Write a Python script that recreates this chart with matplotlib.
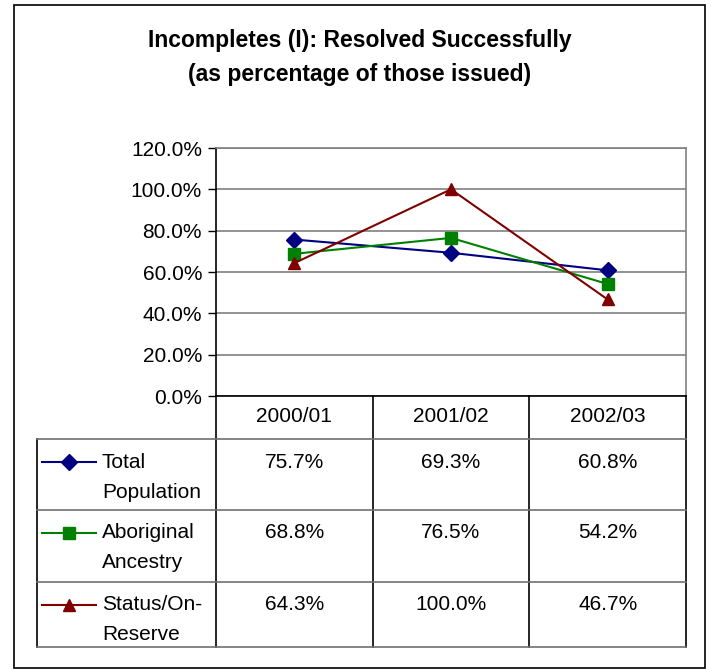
import matplotlib
matplotlib.use("Agg")
import matplotlib.pyplot as plt
from matplotlib.lines import Line2D
from matplotlib.patches import Rectangle

plt.rcParams['font.family'] = ['Liberation Sans', 'DejaVu Sans']

# data
years = ['2000/01', '2001/02', '2002/03']
total_pop = [75.7, 69.3, 60.8]
aboriginal = [68.8, 76.5, 54.2]
status_on_reserve = [64.3, 100.0, 46.7]
series_names = ['Total\nPopulation', 'Aboriginal\nAncestry', 'Status/On-\nReserve']
series_vals = [total_pop, aboriginal, status_on_reserve]
colors = ['#000080', '#008000', '#800000']
markers = ['D', 's', '^']
msizes = [8, 9, 9]
yticks = [0, 20, 40, 60, 80, 100, 120]

W, H = 711, 669
fs = 15
fig = plt.figure(figsize=(W / 100, H / 100), dpi=100)

# pixel layout of the plot box and table
px_left, px_right = 216, 686
px_top, px_bottom = 148, 396
tbl_left = 37
row_edges = [439, 510, 582, 647]

ax = fig.add_axes([px_left / W, 1 - px_bottom / H,
                   (px_right - px_left) / W, (px_bottom - px_top) / H])
for vals, c, m, ms in zip(series_vals, colors, markers, msizes):
    ax.plot(range(len(years)), vals, color=c, marker=m, markersize=ms,
            linewidth=1.5, markeredgecolor=c, zorder=3)
ax.set_xlim(-0.5, len(years) - 0.5)
ax.set_ylim(0, 120)
ax.set_yticks(yticks)
ax.set_yticklabels([f'{v:.1f}%' for v in yticks], fontsize=fs)
ax.set_xticks([])
ax.grid(axis='y', color='#808080', linewidth=1.2, zorder=1)
ax.tick_params(axis='y', length=6, width=1, pad=4)
ax.spines['left'].set_color('black')
ax.spines['bottom'].set_color('black')
ax.spines['top'].set_color('#808080')
ax.spines['right'].set_color('#808080')
for s in ax.spines.values():
    s.set_linewidth(1.2)

# overlay in pixel coordinates for title, table and border
ov = fig.add_axes([0, 0, 1, 1])
ov.set_xlim(0, W)
ov.set_ylim(H, 0)
ov.axis('off')
ov.patch.set_alpha(0)

ov.add_patch(Rectangle((14, 5), 691, 663, fill=False, edgecolor='black', linewidth=1.2))
ov.text(360, 41, 'Incompletes (I): Resolved Successfully', ha='center', va='center',
        fontsize=16.5, fontweight='bold')
ov.text(360, 75, '(as percentage of those issued)', ha='center', va='center',
        fontsize=16.5, fontweight='bold')

col_w = (px_right - px_left) / len(years)
col_x = [px_left + i * col_w for i in range(len(years) + 1)]

# vertical table lines
for x in col_x:
    ov.add_line(Line2D([x, x], [px_bottom, row_edges[-1]], color='black', linewidth=1.2))
ov.add_line(Line2D([tbl_left, tbl_left], [row_edges[0], row_edges[-1]], color='black', linewidth=1.2))
# horizontal table lines
for y in row_edges:
    ov.add_line(Line2D([tbl_left, px_right], [y, y], color='#707070', linewidth=1.2))

# header row
for i, yr in enumerate(years):
    ov.text(col_x[i] + col_w / 2, 417, yr, ha='center', va='center', fontsize=fs)

# series rows
for r, (name, vals, c, m, ms) in enumerate(zip(series_names, series_vals, colors, markers, msizes)):
    ytxt = row_edges[r] + 23
    ov.add_line(Line2D([42, 96], [ytxt, ytxt], color=c, linewidth=1.5))
    ov.add_line(Line2D([69], [ytxt], color=c, marker=m, markersize=ms, markeredgecolor=c))
    first, second = name.split('\n')
    ov.text(102, ytxt, first, ha='left', va='center', fontsize=fs)
    ov.text(102, ytxt + 30, second, ha='left', va='center', fontsize=fs)
    for i, v in enumerate(vals):
        ov.text(col_x[i] + col_w / 2, ytxt, f'{v:.1f}%', ha='center', va='center', fontsize=fs)

fig.savefig('out.png', dpi=100)
